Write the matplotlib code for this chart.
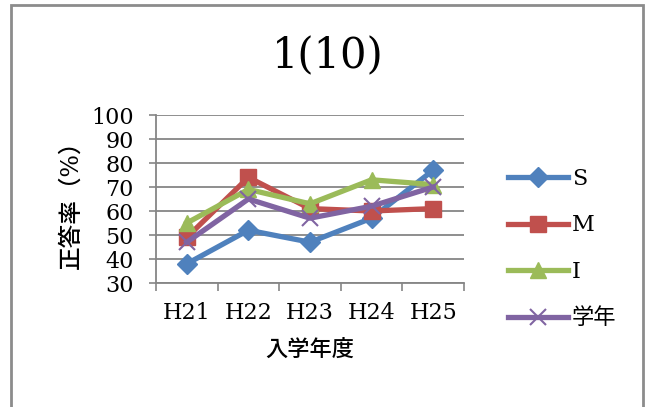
import numpy as np
import matplotlib.pyplot as plt
import matplotlib.patches as patches
from matplotlib.ticker import FixedLocator

plt.rcParams['font.family'] = ['DejaVu Serif', 'Noto Sans CJK JP']

# 入学年度ごとの正答率
years = ['H21', 'H22', 'H23', 'H24', 'H25']
s_vals = [38, 52, 47, 57, 77]
m_vals = [49, 74, 61, 60, 61]
i_vals = [55, 69, 63, 73, 71]
gakunen_vals = [47, 65, 57, 62, 70]

fig = plt.figure(figsize=(6.46, 4.07), dpi=100)
ax = fig.add_axes([156/646, 1-283/407, 308/646, 168/407])

x = np.arange(len(years))
ax.plot(x, s_vals, color='#4F81BD', lw=3.8, marker='D', ms=10, label='S')
ax.plot(x, m_vals, color='#C0504D', lw=3.8, marker='s', ms=12, label='M')
ax.plot(x, i_vals, color='#9BBB59', lw=3.8, marker='^', ms=12, label='I')
ax.plot(x, gakunen_vals, color='#8064A2', lw=3.8, marker='x', ms=11, mew=1.5, label='学年')

ax.set_xlim(-0.5, 4.5)
ax.set_ylim(30, 100)
ax.set_yticks(range(30, 101, 10))
ax.set_xticks(x)
ax.set_xticklabels(years)
ax.xaxis.set_minor_locator(FixedLocator(np.arange(-0.5, 5, 1)))
ax.tick_params(axis='x', which='major', length=0, pad=14, labelsize=16)
ax.tick_params(axis='x', which='minor', length=6, width=1.2, color='#868686')
ax.tick_params(axis='y', length=5, width=1.2, color='#868686', pad=11, labelsize=16)
ax.yaxis.grid(True, color='#868686', lw=1.3)
ax.set_axisbelow(True)
for side in ['top', 'right']:
    ax.spines[side].set_visible(False)
for side in ['left', 'bottom']:
    ax.spines[side].set_color('#868686')
    ax.spines[side].set_linewidth(1.3)

ax.set_xlabel('入学年度', fontsize=16, fontweight='medium', labelpad=10)
ax.set_ylabel('正答率（%）', fontsize=17, fontweight='medium', labelpad=6)

fig.text(0.507, 0.862, '1(10)', fontsize=30, ha='center', va='center')

fig.legend(loc='center left', bbox_to_anchor=(0.756, 0.389), frameon=False,
           fontsize=16, labelspacing=1.1, handlelength=2.7, handletextpad=0.15)

# 枠線
fig.patches.append(patches.Rectangle((11/646, -0.05), 632/646, 1.05-5/407,
                                     transform=fig.transFigure, fill=False,
                                     edgecolor='#8c8c8c', lw=2))

fig.savefig('out.png', dpi=100)
